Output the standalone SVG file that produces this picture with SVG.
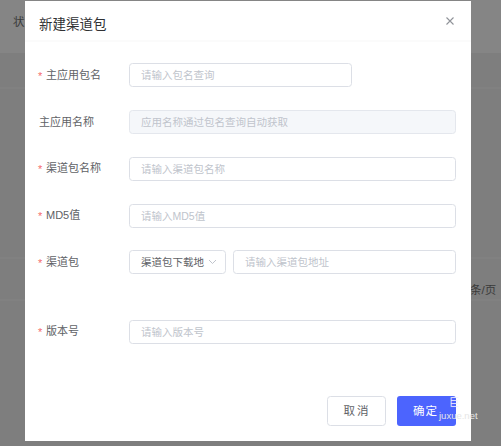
<svg xmlns="http://www.w3.org/2000/svg" width="501" height="446" viewBox="0 0 501 446">
<style>
text{font-family:"Liberation Sans","Noto Sans CJK SC",sans-serif}
.lbl{font-size:11px;fill:#606266}
.req{font-size:11px;fill:#f56c6c}
.ph{font-size:10.5px;fill:#c0c4cc}
.inp{fill:#fff;stroke:#dcdfe6;stroke-width:1}
.dis{fill:#f5f7fa;stroke:#e4e7ed;stroke-width:1}
.sep{stroke:#f7f7f7;stroke-width:1}
</style>
<g id="background">
<rect x="0" y="0" width="501" height="446" fill="#7e7e7e"/>
<rect x="0" y="0" width="501" height="53" fill="#858585"/>
<line x1="0" y1="88" x2="501" y2="88" stroke="#848484"/>
<line x1="0" y1="258" x2="501" y2="258" stroke="#848484"/>
<line x1="0" y1="300" x2="501" y2="300" stroke="#848484"/>
<text x="13" y="26" font-size="11.5" fill="#3a3a3a">状</text>
<text x="470" y="294" font-size="11.5" fill="#3a3a3a">条/页</text>
</g>
<g id="modal">
<rect x="25" y="1" width="446" height="440" fill="#fff"/>
<line x1="25" y1="41" x2="471" y2="41" class="sep"/>
<text x="39" y="29" font-size="13.5" fill="#303133">新建渠道包</text>
<path d="M446.5 17.5 L453.5 24.5 M453.5 17.5 L446.5 24.5" stroke="#909399" stroke-width="1.1" fill="none"/>
</g>
<g id="row-package-name">
<text x="38" y="80" class="req">*</text>
<text x="46" y="79" class="lbl">主应用包名</text>
<rect x="129.5" y="63.5" width="222" height="23" rx="3" class="inp"/>
<text x="141" y="79" class="ph">请输入包名查询</text>
</g>
<g id="row-app-name">
<text x="39" y="126" class="lbl">主应用名称</text>
<rect x="129.5" y="110.5" width="326" height="23" rx="3" class="dis"/>
<text x="141" y="126" class="ph">应用名称通过包名查询自动获取</text>
</g>
<g id="row-channel-name">
<text x="38" y="173" class="req">*</text>
<text x="46" y="172" class="lbl">渠道包名称</text>
<rect x="129.5" y="157.5" width="326" height="23" rx="3" class="inp"/>
<text x="141" y="173" class="ph">请输入渠道包名称</text>
</g>
<g id="row-md5">
<text x="38" y="220" class="req">*</text>
<text x="46" y="219" class="lbl">MD5值</text>
<rect x="129.5" y="204.5" width="326" height="23" rx="3" class="inp"/>
<text x="141" y="220" class="ph">请输入MD5值</text>
</g>
<g id="row-channel">
<text x="38" y="267" class="req">*</text>
<text x="46" y="266" class="lbl">渠道包</text>
<rect x="129.5" y="250.5" width="96" height="23" rx="3" class="inp"/>
<text x="141" y="266" font-size="10.5" fill="#606266">渠道包下载地</text>
<path d="M209 260 L212.5 263.5 L216 260" stroke="#c0c4cc" fill="none" stroke-width="1"/>
<rect x="233.5" y="250.5" width="222" height="23" rx="3" class="inp"/>
<text x="245" y="266" class="ph">请输入渠道包地址</text>
</g>
<g id="row-version">
<text x="38" y="336" class="req">*</text>
<text x="46" y="335" class="lbl">版本号</text>
<rect x="129.5" y="320.5" width="326" height="23" rx="3" class="inp"/>
<text x="141" y="336" class="ph">请输入版本号</text>
</g>
<g id="btn-cancel">
<rect x="327.5" y="396.5" width="58" height="29" rx="3" fill="#fff" stroke="#dcdfe6"/>
<text x="357" y="415" font-size="11.5" fill="#606266" text-anchor="middle" letter-spacing="2">取消</text>
</g>
<g id="btn-ok">
<rect x="397" y="396" width="59" height="30" rx="3" fill="#4c64fe"/>
<text x="413" y="415" font-size="11.5" fill="#fff" letter-spacing="1">确定</text>
</g>
<g id="watermark">
<text x="449" y="406" font-size="10" fill="#f0f0ff">巨</text>
<text x="439" y="419" font-size="9.5" fill="#e6e6e6" font-family="DejaVu Sans Mono,monospace">juxue.net</text>
</g>
</svg>
